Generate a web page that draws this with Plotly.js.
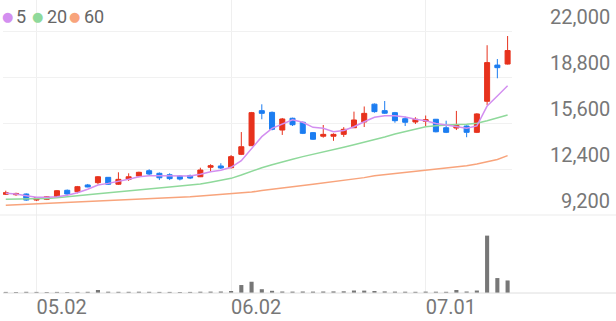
<!DOCTYPE html>
<html>
<head>
<meta charset="utf-8">
<script src="https://cdn.plot.ly/plotly-3.0.1.min.js"></script>
<style>
html,body{margin:0;padding:0;background:#fff;}
#chart{width:616px;height:321px;}
</style>
</head>
<body>
<div id="chart"></div>
<script>
// ---- data ----
const dates = [
  '2025-04-28','2025-04-29','2025-04-30','2025-05-02','2025-05-07','2025-05-08','2025-05-09',
  '2025-05-12','2025-05-13','2025-05-14','2025-05-15','2025-05-16',
  '2025-05-19','2025-05-20','2025-05-21','2025-05-22','2025-05-23',
  '2025-05-26','2025-05-27','2025-05-28','2025-05-29','2025-05-30',
  '2025-06-02','2025-06-04','2025-06-05',
  '2025-06-09','2025-06-10','2025-06-11','2025-06-12','2025-06-13',
  '2025-06-16','2025-06-17','2025-06-18','2025-06-19','2025-06-20',
  '2025-06-23','2025-06-24','2025-06-25','2025-06-26','2025-06-27',
  '2025-06-30','2025-07-01','2025-07-02','2025-07-03','2025-07-04',
  '2025-07-07','2025-07-08','2025-07-09','2025-07-10','2025-07-11'
];
const openP = [10640,10610,10660,10240,10290,10470,10920,10820,11290,11450,11820,11340,11680,11910,12280,12100,12000,11910,11950,11860,
  12520,12610,12490,13420,14020,16460,16340,15110,15930,15650,14930,14680,14680,14810,15270,15670,16910,16460,16320,15900,
  15670,15720,15860,15270,15250,15390,14950,17110,19630,19700];
const highP = [10890,10750,10700,10450,10520,10940,10970,11220,11360,11910,11840,12170,12100,12210,12380,12160,12100,11980,12010,12490,
  12730,12800,13370,14970,16370,16900,16400,15950,15970,15700,14970,15460,14880,15310,16390,16750,16960,17130,16370,16040,
  16000,16120,15880,15760,16440,15430,16280,21010,20050,21650];
const lowP = [10590,10540,10190,10170,10240,10450,10590,10710,11130,11340,11300,11290,11570,11820,11980,11630,11630,11610,11700,11840,
  12260,12400,12440,13370,14000,15860,15090,14770,15390,14830,14420,14580,14360,14630,15250,15320,16320,16230,15620,15390,
  15530,15340,14950,14900,15110,14610,14900,16850,18710,19670];
const closeP = [10750,10700,10240,10400,10470,10890,10660,11170,11150,11860,11340,11680,11860,12170,12050,11790,11730,11700,11770,12330,
  12630,12470,13260,13950,16320,16270,15160,15880,15480,14880,14470,14810,14810,15160,15810,16270,16390,16280,15760,15650,
  15860,15830,14990,14950,15440,14950,16230,19800,19450,20640];
const ma5 = [10710,10660,10540,10430,10430,10470,10570,10750,10990,11290,11400,11520,11680,11860,11930,11930,11930,11910,11910,12030,
  12210,12310,12520,12980,13790,14650,15230,15510,15830,15650,15300,15230,14990,15080,15340,15690,16000,16110,16100,16020,
  15860,15760,15570,15460,15340,15230,15400,16780,17480,18190];
const ma20 = [10290,10300,10300,10310,10350,10400,10450,10530,10600,10680,10740,10810,10870,10940,11010,11080,11150,11220,11280,11360,
  11480,11600,11750,11980,12250,12490,12700,12910,13080,13260,13410,13560,13730,13910,14080,14250,14420,14630,14840,15010,
  15160,15340,15400,15460,15490,15510,15580,15760,15950,16160];
const ma60 = [9880,9910,9940,9970,10000,10030,10060,10090,10120,10150,10180,10220,10260,10290,10320,10360,10390,10430,10470,10520,
  10570,10620,10660,10710,10800,10900,11000,11100,11180,11260,11340,11430,11520,11600,11680,11800,11930,12010,12090,12180,
  12250,12320,12390,12450,12530,12620,12750,12890,13060,13330];
const volume = [110000,100000,120000,110000,100000,110000,100000,110000,120000,300000,130000,120000,120000,130000,120000,110000,110000,100000,110000,130000,
  140000,150000,200000,800000,1130000,380000,220000,150000,140000,150000,140000,150000,160000,170000,250000,240000,200000,160000,140000,130000,
  120000,140000,130000,120000,300000,150000,250000,5760000,1500000,1260000];
const priceTicks = [9200,12400,15600,18800,22000];
const xTickVals = ['2025-05-02','2025-06-02','2025-07-01'];
const xTickText = ['05.02','06.02','07.01'];
const maNames = ['5','20','60'];
const maColors = ['#d38ff0','#8fd99b','#f8a47c'];

// ---- geometry ----
const W = 616, H = 321;
const ML = 3, MR = 104, MT = 0, MB = 28;
const PW = W - ML - MR, PH = H - MT - MB;
const volFrac = 78 / PH;
const px2paperX = p => (p - ML) / PW;
const px2paperY = p => (PH + MT - p) / PH;

const RED = '#e7321d', BLUE = '#1c7df1';
const FONT = 'Roboto, "Noto Sans", sans-serif';

const traces = [
  {type:'scatter', mode:'lines', x:dates, y:ma60, line:{color:maColors[2], width:1.5}, xaxis:'x', yaxis:'y', hoverinfo:'skip'},
  {type:'scatter', mode:'lines', x:dates, y:ma20, line:{color:maColors[1], width:1.5}, xaxis:'x', yaxis:'y', hoverinfo:'skip'},
  {type:'scatter', mode:'lines', x:dates, y:ma5, line:{color:maColors[0], width:1.5}, xaxis:'x', yaxis:'y', hoverinfo:'skip'},
  {type:'candlestick', x:dates, open:openP, high:highP, low:lowP, close:closeP, xaxis:'x', yaxis:'y',
   increasing:{line:{color:RED, width:1}, fillcolor:RED},
   decreasing:{line:{color:BLUE, width:1}, fillcolor:BLUE},
   whiskerwidth:0, hoverinfo:'skip'},
  {type:'bar', x:dates, y:volume, xaxis:'x', yaxis:'y2', marker:{color:'#777777'}, hoverinfo:'skip'}
];

const annotations = [];
priceTicks.forEach(v => {
  annotations.push({xref:'paper', yref:'y', x:px2paperX(612), y:v, yshift:14,
    text:v.toLocaleString('en-US'), showarrow:false, xanchor:'right', yanchor:'middle',
    font:{family:FONT, size:20, color:'#777777'}});
});
const dotX = [7, 37, 74], numX = [14, 45, 82];
maNames.forEach((n, i) => {
  annotations.push({xref:'paper', yref:'paper', x:px2paperX(dotX[i]), y:px2paperY(16),
    text:'●', showarrow:false, xanchor:'center', yanchor:'middle',
    font:{family:'DejaVu Sans', size:13, color:maColors[i]}});
  annotations.push({xref:'paper', yref:'paper', x:px2paperX(numX[i]), y:px2paperY(16),
    text:n, showarrow:false, xanchor:'left', yanchor:'middle',
    font:{family:FONT, size:18, color:'#666666'}});
});

const layout = {
  width:W, height:H,
  margin:{l:ML, r:MR, t:MT, b:MB, pad:0},
  paper_bgcolor:'#ffffff', plot_bgcolor:'#ffffff',
  showlegend:false, hovermode:false, dragmode:false,
  bargap:0.6,
  xaxis:{type:'category', range:[-0.27, 49.43], anchor:'y2',
    tickmode:'array', tickvals:xTickVals, ticktext:xTickText,
    ticks:'', showline:false, zeroline:false,
    showgrid:true, gridcolor:'#efefef', gridwidth:1,
    ticklabelposition:'outside right',
    tickfont:{family:FONT, size:20, color:'#777777'},
    rangeslider:{visible:false}, fixedrange:true},
  yaxis:{domain:[volFrac, 1], range:[9200, 24156.5], tickmode:'array', tickvals:priceTicks,
    showticklabels:false, ticks:'', showgrid:true, gridcolor:'#f1f1f1', zeroline:false, showline:false, fixedrange:true},
  yaxis2:{domain:[0, volFrac], range:[0, 7830000], showticklabels:false, ticks:'',
    showgrid:false, zeroline:false, showline:false, fixedrange:true},
  shapes:[
    {type:'line', xref:'paper', yref:'paper', x0:px2paperX(0), x1:px2paperX(616), y0:volFrac, y1:volFrac,
     line:{color:'#ebebeb', width:1}},
    {type:'line', xref:'paper', yref:'paper', x0:px2paperX(3), x1:px2paperX(616), y0:0, y1:0,
     line:{color:'#dedede', width:1}}
  ],
  annotations:annotations
};

Plotly.newPlot('chart', traces, layout, {staticPlot:true, displayModeBar:false});
</script>
</body>
</html>
